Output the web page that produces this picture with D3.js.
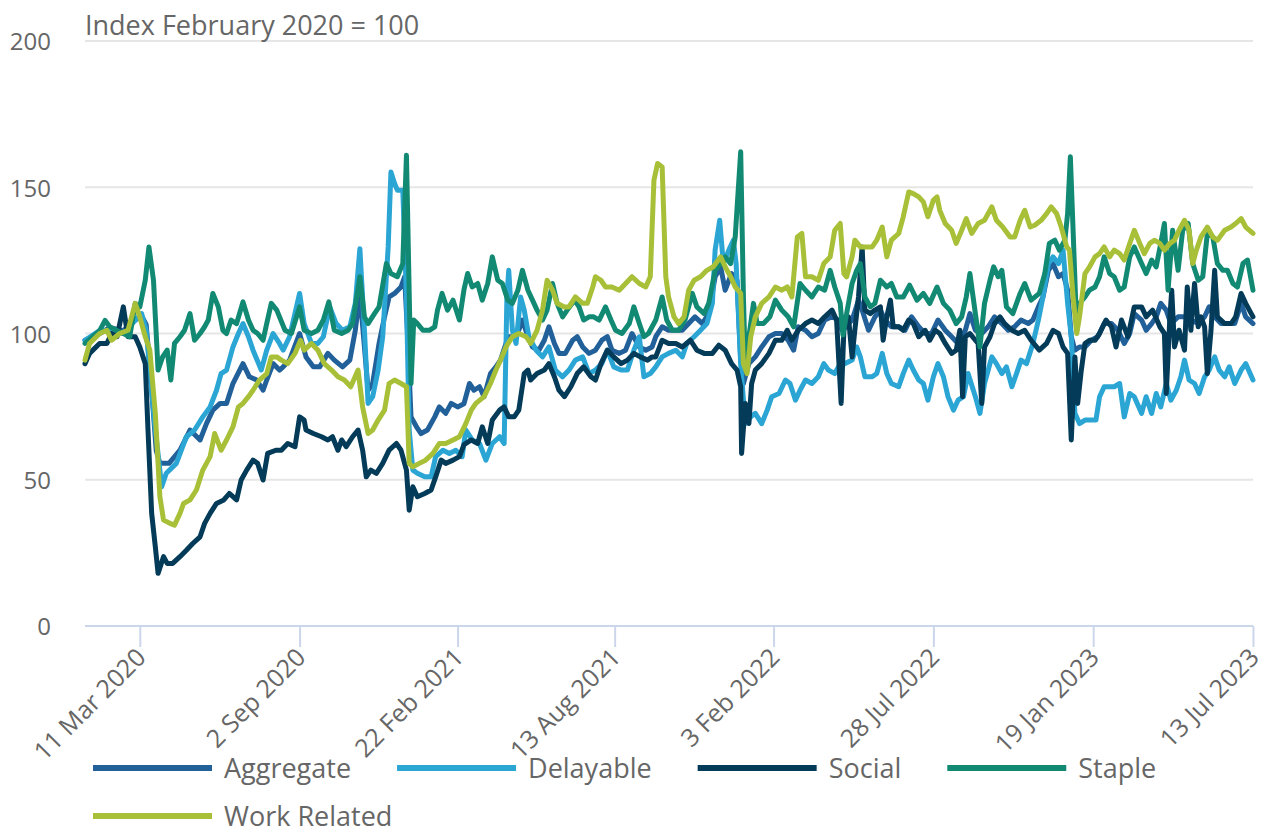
<!DOCTYPE html>
<html>
<head>
<meta charset="utf-8">
<script src="https://cdn.jsdelivr.net/npm/d3@7"></script>
<style>
  html, body { margin: 0; padding: 0; background: #fff; }
  svg { display: block; font-family: "Open Sans", sans-serif; }
</style>
</head>
<body>
<svg id="chart" width="1265" height="836"></svg>
<script>
// ---- data: [days since start date, index value] ----
const startDate = new Date(2020, 0, 11);
const endDate = new Date(2023, 6, 13);
const yTicks = [0, 50, 100, 150, 200];
const tickDates = ["2020-03-11", "2020-09-02", "2021-02-22", "2021-08-13", "2022-02-03", "2022-07-28", "2023-01-19", "2023-07-13"];
const tickLabels = ["11 Mar 2020", "2 Sep 2020", "22 Feb 2021", "13 Aug 2021", "3 Feb 2022", "28 Jul 2022", "19 Jan 2023", "13 Jul 2023"];
const seriesNames = ["Aggregate", "Delayable", "Social", "Staple", "Work Related"];
const seriesColors = ["#22609a", "#2aa5d4", "#033b58", "#128a73", "#a8bf38"];

const aggregate = [[0,97.7],[16,100],[27,102],[42,101],[55,104.6],[62,106],[67,103],[72,85],[78,60],[82,55.6],[92,55.6],[104,60.1],[115,67],[126,63.6],[133,69.2],[140,73.8],[148,76.1],[155,76.1],[162,82.9],[173,89.7],[180,85.2],[188,84.1],[195,80.6],[199,84.1],[206,89.7],[213,87.5],
[217,88.6],[224,90.9],[235,100],[242,92],[250,88.6],[257,88.6],[266,93.2],[273,90.9],[282,88.6],[290,90.9],[296,101.1],[301,113.7],[306,95.4],[310,80.6],[315,82.9],[322,96.6],[328,105.7],[333,112.5],[339,113.7],[346,115.9],[350,119.4],[353,101.1],[357,71.5],[363,68.1],[368,65.8],[375,67],[383,71.5],[388,74.9],[395,72.7],[401,76.1],[408,74.9],
[415,76],[421,82.9],[426,80.6],[432,81.8],[437,78.4],[444,86.3],[450,88.6],[455,90.9],[461,96.6],[464,98.9],[470,98.9],[475,101.1],[479,104.6],[485,98.9],[490,95.4],[497,94.3],[503,97.7],[508,102.3],[514,96.6],[519,93.2],[526,93.2],[534,97.7],[539,98.9],[545,95.4],[552,93.2],[559,94.3],[566,97.7],[572,98.9],[577,94.3],[585,93.2],[592,94.3],[599,100],[607,95.4],[614,94.3],[621,95.4],
[625,98.9],[632,102.3],[639,101.1],[647,101.1],[654,101.1],[661,103.4],[668,105.7],[676,103.4],[683,106.8],[690,119.4],[696,122.8],[701,114.8],[708,120.5],[714,118.2],[718,90.9],[721,82.9],[727,89.7],[734,92],[741,95.4],[749,98.9],[756,100],[763,100],[770,97.7],[776,94.3],[781,102.3],[789,101.1],[796,98.9],[803,100],[810,104.6],[818,105.7],[825,104.6],[829,101.1],
[832,102.3],[840,104.6],[847,111.4],[851,108],[858,101.1],[865,105.7],[871,108],[876,104.6],[883,102.3],[891,102.3],[898,101.1],[905,105.7],[913,102.3],[920,100],[927,100],[934,104.6],[942,101.1],[949,98.9],[956,96.6],[964,101.1],[969,106.8],[975,101.1],[982,100],[989,102.3],[996,105.7],[1004,103.4],[1011,101.1],[1018,102.3],[1025,104.6],[1033,103.4],
[1038,104.6],[1044,109.1],[1049,112.5],[1055,121.6],[1060,123.9],[1066,119.4],[1071,120.5],[1076,114.8],[1080,98.9],[1084,94.3],[1089,95.4],[1095,95.4],[1102,97.7],[1109,98.9],[1116,103.4],[1124,103.4],[1131,101.1],[1138,96.6],[1144,100],[1149,106.8],[1157,104.6],[1162,101.1],[1168,103.4],[1173,105.7],[1178,110.3],[1184,108],[1189,103.4],[1197,105.7],[1204,105.7],[1211,104.6],[1219,103.4],[1226,105.7],[1231,109.1],[1237,105.7],[1244,103.4],[1251,103.4],[1259,103.4],[1266,110.3],[1271,105.7],[1279,103.4]];

const delayable = [[0,97.7],[16,101],[27,101],[42,100],[55,104.6],[62,106.8],[67,101.1],[76,70],[84,47.6],[89,52.2],[100,55.6],[111,64.7],[120,67],[129,71.5],[137,74.9],[144,80.6],[149,86.3],[155,87.5],[162,95.4],[168,100],[173,103.4],[179,98.9],[184,94.3],[193,87.5],[199,94.3],[206,100],[213,96.6],
[217,94.3],[224,98.9],[235,113.7],[240,103.4],[248,96.6],[255,96.6],[261,98.9],[268,109.1],[275,103.4],[282,101.1],[290,102.3],[296,110.3],[301,129],[306,101.1],[310,76.1],[315,78.4],[321,87.5],[326,98.9],[332,129.6],[335,155.2],[339,151.3],[342,149],[348,149],[352,112.5],[355,67],[359,53.3],[364,52.2],[372,51],[379,51],[384,57.9],[392,60.1],[399,59],[406,60.1],[413,57.9],
[417,67],[424,63.6],[432,62.4],[439,56.7],[446,62.4],[454,64.7],[459,62.4],[462,112.5],[464,121.6],[468,101.1],[472,96.6],[477,112.5],[481,108],[486,98.9],[494,94.3],[501,92],[508,95.4],[515,87.5],[523,85.2],[530,87.5],[537,90.9],[545,92],[552,86.3],[559,87.5],[566,89.7],[572,94.3],[579,88.6],[587,87.5],[594,87.5],[601,94.3],[607,98.9],[612,85.2],[619,86.3],
[625,88.6],[632,92],[639,93.2],[647,94.3],[654,92],[659,96.6],[667,98.9],[674,101.1],[681,103.4],[687,110.3],[690,128.5],[695,138.7],[699,123.9],[705,128.5],[710,131.9],[713,123.9],[718,89.7],[723,69.2],[729,71.5],[734,72.7],[741,69.2],[747,73.8],[752,78.4],[760,79.5],[767,84.1],[772,82.9],[778,77.2],[783,80.6],[789,84.1],[796,82.9],[803,85.2],[809,89.7],[814,87.5],[821,86.3],[827,89.7],
[832,89.7],[840,90.9],[845,95.4],[849,92],[854,85.2],[862,85.2],[867,86.3],[873,93.2],[878,86.3],[883,82.9],[891,81.8],[896,86.3],[902,90.9],[907,87.5],[913,84.1],[918,82.9],[923,77.2],[929,85.2],[934,89.7],[940,85.2],[945,78.4],[951,73.8],[956,77.2],[962,78.4],[967,86.3],[975,78.4],[980,72.7],[985,82.9],[993,92],[998,89.7],[1004,86.3],[1009,88.6],[1015,81.8],[1020,86.3],[1025,90.9],[1031,89.7],
[1038,96.6],[1044,104.6],[1049,112.5],[1055,123.9],[1060,126.2],[1066,123.9],[1071,128.5],[1076,110.3],[1080,98.9],[1084,72.7],[1089,69.2],[1095,70.4],[1102,70.4],[1107,70.4],[1111,78.4],[1116,81.8],[1122,81.8],[1127,81.8],[1133,82.9],[1138,71.5],[1144,79.5],[1149,78.4],[1157,72.7],[1162,78.4],[1168,72.7],[1173,79.5],[1178,74.9],[1184,82.9],[1189,77.2],[1195,80.6],[1200,85.2],[1204,90.9],[1209,84.1],[1215,82.9],[1220,79.5],[1226,85.2],[1231,87.5],[1237,92],[1242,87.5],[1248,85.2],[1253,88.6],[1259,82.9],[1266,87.5],[1271,89.7],[1279,84.1]];

const social = [[0,89.7],[5,93.2],[16,96.6],[24,96.6],[29,100],[35,98.9],[42,109.1],[47,98.9],[55,98.9],[60,95.4],[66,89.7],[69,67],[73,38.5],[77,27.1],[80,18],[86,23.7],[90,21.4],[96,21.4],[104,23.7],[111,25.9],[118,28.2],[126,30.5],[131,35.1],[137,38.5],[144,41.9],[152,43.1],[158,45.3],[166,43.1],[171,49.9],[177,53.3],[184,56.7],[189,55.6],[195,49.9],[200,59],[209,60.1],
[215,60.1],[222,62.4],[230,61.3],[235,71.5],[240,70.4],[242,67],[250,65.8],[259,64.7],[266,63.6],[271,64.7],[277,60.1],[281,63.6],[286,61.3],[293,64.7],[299,67],[304,60.1],[308,51],[313,53.3],[319,52.2],[326,55.6],[333,60.1],[341,62.4],[346,60.1],[352,53.3],[355,39.6],[359,47.6],[364,44.2],[372,45.3],[379,46.5],[384,51],[390,56.7],[395,55.6],[403,56.7],[410,57.9],
[415,62],[423,63.6],[430,62.4],[435,68.1],[441,62.4],[446,70.4],[454,73.8],[459,74.9],[464,71.5],[470,71.5],[475,73.8],[481,86.3],[485,87.5],[488,84.1],[495,86.3],[503,87.5],[508,89.7],[514,85.2],[519,80.6],[525,78.4],[532,81.8],[539,86.3],[546,88.6],[554,85.2],[559,84.1],[565,89.7],[572,94.3],[579,92],[587,89.7],[594,90.9],[601,93.2],[608,92],[616,90.9],[621,92],
[625,92],[632,97.7],[639,96.6],[647,96.6],[654,95.4],[663,97.7],[670,94.3],[678,93.2],[687,93.2],[694,96],[701,94.3],[708,89.7],[714,87.5],[718,81.8],[719,59],[723,76.1],[727,69.2],[730,82.9],[734,87.5],[741,89.7],[749,93.2],[756,97.7],[763,97.7],[769,101.1],[774,97.7],[781,101.1],[789,103.4],[796,104.6],[803,103.4],[810,105.7],[818,108],[823,104.6],[828,76.1],[831,101.1],
[836,105.7],[840,92],[843,101.1],[847,112.5],[851,129.6],[854,108],[860,106.8],[865,108],[871,109.1],[874,97.7],[878,105.7],[882,111.4],[885,102.3],[891,102.3],[896,101.1],[902,104.6],[907,103.4],[913,98.9],[920,101.1],[925,97.7],[931,101.1],[936,100],[942,96.6],[949,93.2],[954,94.3],[958,101.1],[961,78.4],[964,98.9],[969,100],[975,97.7],[978,96.6],[982,76.1],[985,95.4],[991,98.9],[996,103.4],[1002,105.7],[1007,103.4],[1015,101.1],[1022,100],[1029,101.1],[1036,97.7],
[1045,94.3],[1053,96.6],[1060,101.1],[1066,100],[1071,95.4],[1076,93.2],[1080,63.6],[1084,92],[1087,76.1],[1091,87.5],[1095,96.6],[1100,97.7],[1106,97.7],[1111,100],[1118,104.6],[1124,102.3],[1129,95.4],[1135,104.6],[1142,98.9],[1149,109.1],[1157,109.1],[1162,105.7],[1169,108],[1177,102.3],[1182,100],[1184,79.5],[1188,105.7],[1190,114.8],[1193,95.4],[1198,101.1],[1204,94.3],[1207,115.9],[1211,101.1],[1215,117.1],[1219,102.3],[1222,105.7],[1226,102.3],[1229,86.3],[1233,101.1],[1237,121.6],[1240,105.7],[1248,103.4],[1255,103.4],[1260,105.7],[1266,113.7],[1271,110.3],[1279,105.7]];

const staple = [[0,96.6],[16,101],[22,104.5],[27,102.3],[35,101],[42,100],[49,98.9],[55,110.3],[60,109.1],[66,118.2],[70,129.6],[75,118.2],[80,87.5],[85,92],[90,94.3],[94,84.1],[98,96.6],[104,98.9],[109,101.1],[115,106.8],[120,97.7],[126,100],[131,102.3],[135,104.6],[140,113.7],[146,109.1],[151,101.1],[155,100],[160,104.6],[166,103.4],[173,110.8],[179,104.6],[184,101.1],[189,100],[195,97.7],[199,103.4],[204,110.3],[210,108],[213,105.7],
[219,101.1],[226,100],[235,109.1],[240,101.1],[248,100],[255,101.1],[261,104.6],[267,110.8],[273,101.1],[281,100],[288,101.1],[293,103.4],[301,119.4],[306,105.7],[310,103.4],[317,106.8],[322,109.1],[330,123.9],[335,120.5],[342,119.4],[348,123.9],[352,160.9],[357,82.9],[360,104.6],[364,103.4],[370,101.1],[377,101.1],[383,102.3],[386,108],[391,113.7],[397,108],[403,111.4],[410,104.6],[415,115],[419,120.5],
[424,115.9],[430,117.1],[435,111.4],[441,117.1],[446,126.2],[452,118.2],[457,117.1],[463,111.4],[468,110.3],[474,114.8],[479,121.6],[485,114.8],[490,111.4],[495,108],[501,104.6],[506,108],[512,117.1],[517,110.3],[523,105.7],[528,108],[536,111.4],[541,109.1],[546,104.6],[552,105.7],[557,105.7],[563,104.6],[570,109.1],[576,104.6],[581,101.1],[588,100],[596,103.4],[601,109.1],[607,103.4],[612,98.9],[617,100],
[625,104.6],[632,112.5],[637,104.6],[643,101.1],[650,101.1],[657,104.6],[665,113.7],[670,109.1],[678,106.8],[683,110.3],[690,121.6],[696,123.9],[701,126.2],[707,123.9],[712,133],[718,162.1],[721,112.5],[723,89.7],[727,98.9],[732,110.3],[736,103.4],[743,103.4],[750,105.7],[756,111.4],[763,108],[770,105.7],[776,102.3],[783,117.1],[789,114.8],[796,112.5],[803,115.9],[810,114.8],[816,121.6],[821,115.9],[827,110.3],
[830,99.5],[834,106.8],[840,117.1],[845,121.6],[849,123.9],[854,112.5],[860,109.1],[865,110.3],[871,118.2],[878,115.9],[883,117.1],[889,112.5],[896,112.5],[903,116.5],[911,111.4],[918,113.7],[925,110.3],[933,115.9],[940,110.3],[947,108],[954,103.4],[960,105.7],[965,112.5],[969,120.5],[975,106.8],[980,95.4],[985,110.3],[991,118.2],[995,122.8],[1000,119.4],[1004,121.6],[1009,109.1],[1016,106.8],[1024,113.7],[1029,117.1],[1036,111.4],
[1045,113.7],[1051,120.5],[1056,130.8],[1062,131.9],[1067,128.5],[1073,131.9],[1076,141],[1079,160.4],[1082,135.3],[1086,101.1],[1089,110.3],[1095,112.5],[1100,114.8],[1106,115.9],[1111,119.4],[1116,126.2],[1122,120.5],[1127,119.4],[1133,114.8],[1138,115.9],[1144,126.2],[1149,129.6],[1157,123.9],[1162,120.5],[1168,125.1],[1173,122.8],[1178,130.8],[1182,137.6],[1186,114.8],[1191,135.3],[1197,121.6],[1202,135.3],[1208,137.6],[1213,123.9],[1219,118.2],[1224,119.4],[1229,134.2],[1235,133],[1240,123.9],[1246,121.6],[1251,121.6],[1257,117.1],[1262,115.9],[1268,123.9],[1273,125.1],[1279,114.8]];

const workRelated = [[0,90.9],[5,96.6],[16,100],[24,101.1],[29,97.7],[38,100],[47,101.1],[55,110.3],[60,105.7],[66,98.9],[71,94.3],[77,72.7],[82,44.2],[86,36.2],[93,35.1],[98,34.5],[104,38.5],[108,41.9],[115,43.1],[122,46.5],[129,53.3],[137,57.9],[142,65.8],[149,60.1],[155,63.6],[162,68.1],[168,74.9],[173,76.1],[179,78.4],[184,80.6],[191,84.1],[199,86.3],[204,92],[210,92],
[215,90.9],[222,89.7],[230,93.2],[236,97.7],[240,94.3],[248,96.6],[255,94.3],[262,89.7],[270,87.5],[277,85.2],[284,84.1],[291,81.8],[299,87.5],[304,74.9],[310,65.8],[315,67],[321,70.4],[328,73.8],[333,82.9],[339,84.1],[346,82.9],[352,81.8],[355,55.6],[359,54.4],[366,55.6],[373,56.7],[381,59],[388,62.4],[395,62.4],[403,63.6],[410,64.7],
[417,69.2],[423,73.8],[428,76.1],[437,78.4],[444,82.9],[450,87.5],[455,90.9],[461,95.4],[468,98.9],[475,100],[483,98.9],[488,96.6],[495,101.1],[501,108],[506,118.2],[512,114.8],[517,110.3],[525,109.1],[530,109.1],[537,112.5],[545,110.3],[550,110.3],[556,115.9],[559,119.4],[565,118.2],[570,115.9],[577,115.9],[585,114.8],[592,117.1],[599,119.4],[607,117.1],[614,115.9],[619,119.4],[623,152.4],[627,158.1],
[632,156.9],[636,119.4],[639,112.5],[645,105.7],[650,103.4],[656,105.7],[661,114.8],[667,118.2],[674,119.4],[681,121.6],[688,122.8],[696,126.2],[701,122.8],[707,119.4],[712,115.9],[718,113.7],[721,89.7],[725,86.3],[729,98.9],[734,105.7],[741,110.3],[749,112.5],[756,115.9],[763,114.8],[769,115.9],[774,112.5],[780,133],[785,134.2],[789,119.4],[796,119.4],[803,118.2],[809,123.9],[816,126.2],[821,135.3],[827,137.6],[831,120.5],
[834,119.4],[840,126.2],[843,131.9],[849,129.6],[854,129.6],[862,129.6],[867,131.9],[873,136.4],[878,126.2],[883,131.9],[891,134.2],[896,139.9],[902,148.4],[907,147.8],[913,146.7],[918,145],[923,139.9],[929,145.6],[933,146.7],[936,142.1],[942,137.6],[949,135.3],[954,130.8],[960,135.3],[965,139.3],[971,134.2],[978,137.6],[985,138.7],[993,143.3],[998,138.7],[1005,136.4],[1013,133],[1018,133],[1024,138.7],[1029,142.1],[1035,136.4],
[1040,137],[1047,138.7],[1053,141],[1058,143.3],[1064,141],[1069,136.4],[1075,129.6],[1078,128.5],[1082,112.5],[1086,100],[1089,105.7],[1095,120.5],[1100,122.8],[1106,126.2],[1111,127.3],[1116,129.6],[1122,126.2],[1127,128.5],[1133,127.3],[1138,125.1],[1144,130.8],[1149,135.3],[1155,130.8],[1160,127.3],[1166,130.8],[1171,131.9],[1177,130.8],[1182,128.5],[1188,130.8],[1193,131.9],[1198,135.3],[1204,138.7],[1209,135.3],[1213,123.9],[1217,128.5],[1222,133],[1229,136.4],[1235,133],[1240,131.9],[1248,135.3],[1255,136.4],[1260,137.6],[1266,139.3],[1271,136.4],[1279,134.2]];

const seriesData = [aggregate, delayable, social, staple, workRelated];

// ---- drawing ----
const svg = d3.select("#chart");
const textColor = "#666666";
const plot = { left: 85, right: 1253, top: 41, bottom: 626 };

const x = d3.scaleTime().domain([startDate, endDate]).range([plot.left, plot.right]);
const y = d3.scaleLinear().domain([0, 200]).range([plot.bottom, plot.top]);
const dayToDate = d => d3.timeDay.offset(startDate, d);
const parse = d3.timeParse("%Y-%m-%d");

// gridlines
svg.append("g").selectAll("line").data(yTicks.filter(v => v > 0)).join("line")
  .attr("x1", plot.left).attr("x2", plot.right)
  .attr("y1", d => y(d)).attr("y2", d => y(d))
  .attr("stroke", "#e6e6e6").attr("stroke-width", 2);

// y labels
svg.append("g").selectAll("text").data(yTicks).join("text")
  .attr("x", 51).attr("y", d => y(d) + 3)
  .attr("text-anchor", "end").attr("dominant-baseline", "middle")
  .attr("fill", textColor).attr("font-size", 24).text(d => d);

// title
svg.append("text").attr("x", plot.left).attr("y", 35)
  .attr("fill", textColor).attr("font-size", 27).text("Index February 2020 = 100");

// x axis
const xAxis = d3.axisBottom(x)
  .tickValues(tickDates.map(parse))
  .tickSize(21)
  .tickFormat((d, i) => tickLabels[i]);
const gx = svg.append("g").attr("transform", `translate(0,${plot.bottom})`).call(xAxis);
gx.select(".domain").attr("stroke", "#ccd6eb").attr("stroke-width", 2).attr("d", `M${plot.left},0H${plot.right}`);
gx.selectAll(".tick line").attr("stroke", "#ccd6eb").attr("stroke-width", 2);
gx.selectAll(".tick text")
  .attr("fill", textColor).attr("font-size", 25).attr("font-family", "Open Sans")
  .attr("text-anchor", "end").attr("dy", null).attr("y", 0)
  .attr("transform", "translate(7,33) rotate(-45)");

// lines
const line = d3.line().x(d => x(dayToDate(d[0]))).y(d => y(d[1])).curve(d3.curveLinear);
svg.append("g").selectAll("path").data(seriesData).join("path")
  .attr("d", d => line(d))
  .attr("fill", "none")
  .attr("stroke", (d, i) => seriesColors[i])
  .attr("stroke-width", 5)
  .attr("stroke-linejoin", "round")
  .attr("stroke-linecap", "round");

// legend
const legend = svg.append("g");
const rows = [[0, 1, 2, 3], [4]];
const rowY = [768, 816];
rows.forEach((row, r) => {
  let cx = 93;
  row.forEach(i => {
    const g = legend.append("g");
    g.append("line").attr("x1", cx).attr("x2", cx + 119).attr("y1", rowY[r]).attr("y2", rowY[r])
      .attr("stroke", seriesColors[i]).attr("stroke-width", 6);
    const t = g.append("text").attr("x", cx + 131).attr("y", rowY[r] + 10)
      .attr("fill", textColor)
      .attr("font-size", 27).text(seriesNames[i]);
    cx = cx + 131 + t.node().getComputedTextLength() + 46;
  });
});
</script>
</body>
</html>
